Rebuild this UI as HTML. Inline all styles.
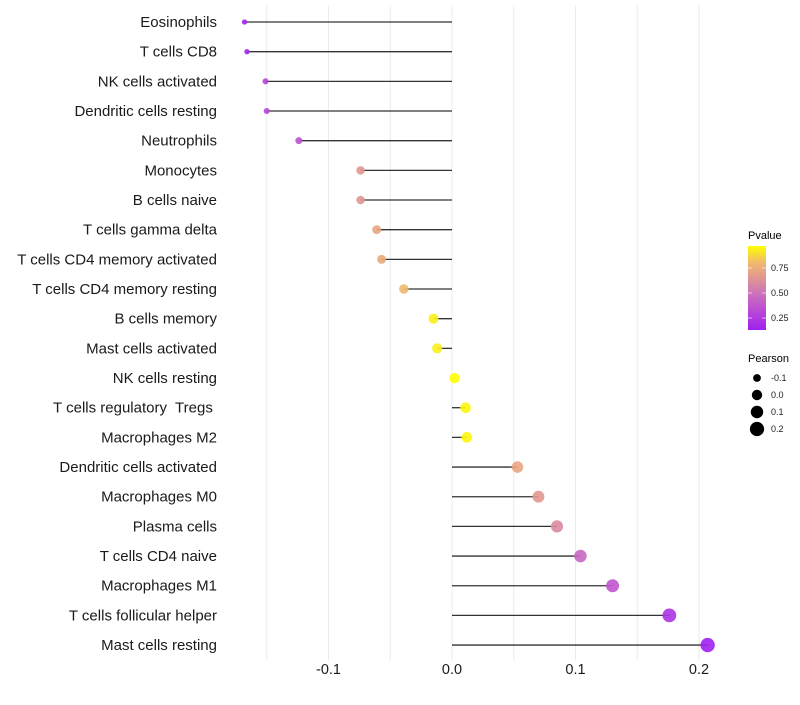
<!DOCTYPE html>
<html><head><meta charset="utf-8"><style>
body{margin:0;background:#fff;font-family:"Liberation Sans",sans-serif;}
svg text{font-family:"Liberation Sans",sans-serif;white-space:pre;}
</style></head><body>
<svg id="chart" width="800" height="700" xmlns="http://www.w3.org/2000/svg">
<g id="grid"></g>
<g id="marks"></g>
<g id="ylabels"></g>
<g id="xlabels"></g>
<g id="legend">
<defs><linearGradient id="pg" x1="0" y1="1" x2="0" y2="0">
<stop offset="0" stop-color="#a020f0"/><stop offset="0.26" stop-color="#be50d2"/><stop offset="0.44" stop-color="#cd73b9"/><stop offset="0.62" stop-color="#e19691"/><stop offset="0.8" stop-color="#f0b96e"/><stop offset="1" stop-color="#ffff00"/></linearGradient></defs>
<text x="748" y="239" font-size="11">Pvalue</text>
<rect x="748" y="246" width="18" height="84" fill="url(#pg)"/>
<g stroke="#fff" stroke-opacity="0.6"><line x1="748" x2="752" y1="268" y2="268"/><line x1="762" x2="766" y1="268" y2="268"/><line x1="748" x2="752" y1="293" y2="293"/><line x1="762" x2="766" y1="293" y2="293"/><line x1="748" x2="752" y1="318" y2="318"/><line x1="762" x2="766" y1="318" y2="318"/></g>
<g font-size="9" fill="#222"><text x="771" y="271">0.75</text><text x="771" y="296">0.50</text><text x="771" y="321">0.25</text></g>
<text x="748" y="362" font-size="11">Pearson</text>
<g id="sizeleg"></g>
</g>
</svg>
<script>
const categories=["Eosinophils","T cells CD8","NK cells activated","Dendritic cells resting","Neutrophils","Monocytes","B cells naive","T cells gamma delta","T cells CD4 memory activated","T cells CD4 memory resting","B cells memory","Mast cells activated","NK cells resting","T cells regulatory  Tregs ","Macrophages M2","Dendritic cells activated","Macrophages M0","Plasma cells","T cells CD4 naive","Macrophages M1","T cells follicular helper","Mast cells resting"];
const pearson=[-0.168,-0.166,-0.151,-0.150,-0.124,-0.074,-0.074,-0.061,-0.057,-0.039,-0.015,-0.012,0.002,0.011,0.012,0.053,0.070,0.085,0.104,0.130,0.176,0.207];
const pvalue=[0.15,0.16,0.3,0.3,0.36,0.65,0.65,0.72,0.74,0.8,0.93,0.93,0.98,0.95,0.95,0.72,0.66,0.6,0.45,0.38,0.22,0.13];
const xTicks=[-0.1,0.0,0.1,0.2];
const xTickLabels=["-0.1","0.0","0.1","0.2"];
const gridVals=[-0.15,-0.1,-0.05,0,0.05,0.1,0.15,0.2];
const legendVals=[-0.1,0.0,0.1,0.2];
const NS="http://www.w3.org/2000/svg";
const x=v=>452+v*1235;
const y=i=>22+i*29.67;
const r=v=>Math.sqrt(Math.max(4,27+118*v));
const stops=[[0.13,[160,32,240]],[0.35,[190,80,210]],[0.5,[205,115,185]],[0.65,[225,150,145]],[0.8,[240,185,110]],[0.97,[255,255,0]]];
function col(p){if(p<=stops[0][0])return "rgb("+stops[0][1]+")";for(let k=1;k<stops.length;k++){if(p<=stops[k][0]){const a=stops[k-1],b=stops[k];const t=(p-a[0])/(b[0]-a[0]);return "rgb("+a[1].map((c,j)=>Math.round(c+(b[1][j]-c)*t)).join(",")+")";}}return "rgb(255,255,0)";}
function mk(t,at,parent){const e=document.createElementNS(NS,t);for(const k in at)e.setAttribute(k,at[k]);parent.appendChild(e);return e;}
const G=document.getElementById("grid"),M=document.getElementById("marks"),YL=document.getElementById("ylabels"),XL=document.getElementById("xlabels"),SL=document.getElementById("sizeleg");
gridVals.forEach(v=>{const l=mk("line",{x1:x(v),x2:x(v),y1:5,y2:660,stroke:"#ebebeb","stroke-width":1},G);

});
categories.forEach((c,i)=>{
const t=mk("text",{x:217,y:y(i)+5,"text-anchor":"end","font-size":15,fill:"#1a1a1a"},YL);t.textContent=c;


const l=mk("line",{x1:x(0),x2:x(pearson[i]),y1:y(i),y2:y(i),stroke:"#333","stroke-width":1.3},M);


const d=mk("circle",{cx:x(pearson[i]),cy:y(i),r:r(pearson[i]),fill:col(pvalue[i]),"fill-opacity":0.9},M);


});
xTicks.forEach((v,i)=>{const t=mk("text",{x:x(v),y:674,"text-anchor":"middle","font-size":14.5,fill:"#1a1a1a"},XL);t.textContent=xTickLabels[i];

});
legendVals.forEach((v,i)=>{const cy=378+i*17;const c=mk("circle",{cx:757,cy:cy,r:r(v),fill:"#000"},SL);


const t=mk("text",{x:771,y:cy+3,"font-size":9,fill:"#222"},SL);t.textContent=v.toFixed(1);

});
</script>
</body></html>
